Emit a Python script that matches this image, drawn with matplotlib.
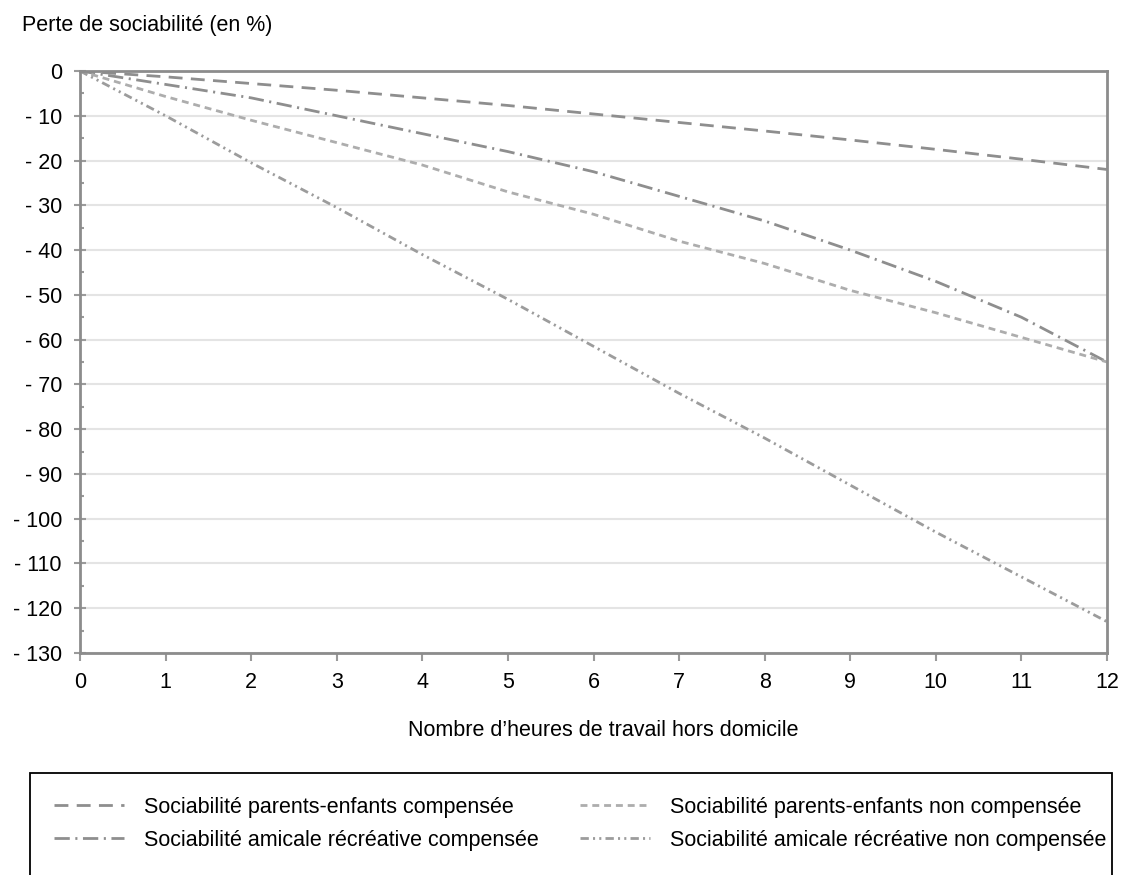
import matplotlib.pyplot as plt
import matplotlib.patches as mpatches
import numpy as np

plt.rcParams['font.family'] = ['Liberation Sans', 'DejaVu Sans']
plt.rcParams['lines.scale_dashes'] = False

hours = np.arange(0, 13)
pe_comp = [0, -1.3, -2.8, -4.3, -6, -7.7, -9.6, -11.5, -13.4, -15.4, -17.5, -19.7, -22]
am_comp = [0, -3, -6, -10, -14, -18, -22.5, -28, -33.5, -40, -47, -55, -65]
pe_noncomp = [0, -5.7, -11, -16, -21, -27, -32, -38, -43, -49, -54, -59.5, -65]
am_noncomp = [0, -10, -20.5, -30.5, -41, -51, -61.5, -72, -82, -92.5, -103, -113, -123]

labels = ['Sociabilité parents-enfants compensée',
          'Sociabilité amicale récréative compensée',
          'Sociabilité parents-enfants non compensée',
          'Sociabilité amicale récréative non compensée']

W, H = 1130, 875
fs = 15.5
fig = plt.figure(figsize=(W / 100, H / 100), dpi=100)
ax = fig.add_axes([80 / W, 1 - 653 / H, 1027 / W, 582 / H])

l1, = ax.plot(hours, pe_comp, color='#8e8e8e', lw=2, dashes=(10, 6))
l2, = ax.plot(hours, am_comp, color='#8e8e8e', lw=2, dashes=(11, 4, 1.5, 4))
l3, = ax.plot(hours, pe_noncomp, color='#adadad', lw=2, dashes=(5, 3.5))
l4, = ax.plot(hours, am_noncomp, color='#9c9c9c', lw=2, dashes=(6, 3, 1.5, 3, 1.5, 3))

ax.set_xlim(0, 12)
ax.set_ylim(-130, 0)
ax.set_xticks(range(0, 13))
yt = list(range(0, -131, -10))
ax.set_yticks(yt)
ax.set_yticklabels(['0'] + ['- %d' % (-v) for v in yt[1:]])
ax.set_yticks(range(-125, 0, 10), minor=True)
ax.grid(axis='y', color='#e4e4e4', lw=1.5)
ax.set_axisbelow(True)
for s in ax.spines.values():
    s.set_color('#8c8c8c')
    s.set_linewidth(2)
ax.tick_params(axis='both', which='both', labelsize=fs, colors='#9a9a9a', labelcolor='black')
ax.tick_params(axis='y', which='major', direction='inout', length=8, width=1.5, pad=9)
ax.tick_params(axis='y', which='minor', direction='in', length=3, width=1.5)
ax.tick_params(axis='x', direction='out', length=6, width=1.5, pad=8)

fig.text(22 / W, 1 - 25 / H, 'Perte de sociabilité (en %)', fontsize=fs, va='center')
fig.text(603 / W, 1 - 730 / H, 'Nombre d\u2019heures de travail hors domicile',
         fontsize=fs, ha='center', va='center')

# legend frame, cut off by the bottom of the figure
fig.patches.append(mpatches.Rectangle((30 / W, -0.05), 1082 / W, 1 - 773 / H + 0.05,
                                      transform=fig.transFigure, fill=False,
                                      edgecolor='black', lw=1.3))
leg = fig.legend([l1, l2, l3, l4], labels, ncol=2, loc='upper left',
                 bbox_to_anchor=(54 / W, 1 - 797 / H), frameon=False,
                 fontsize=fs, handlelength=3.25, handletextpad=0.95,
                 labelspacing=0.55, borderpad=0, borderaxespad=0, columnspacing=1.9)

fig.savefig('out.png', dpi=100)
